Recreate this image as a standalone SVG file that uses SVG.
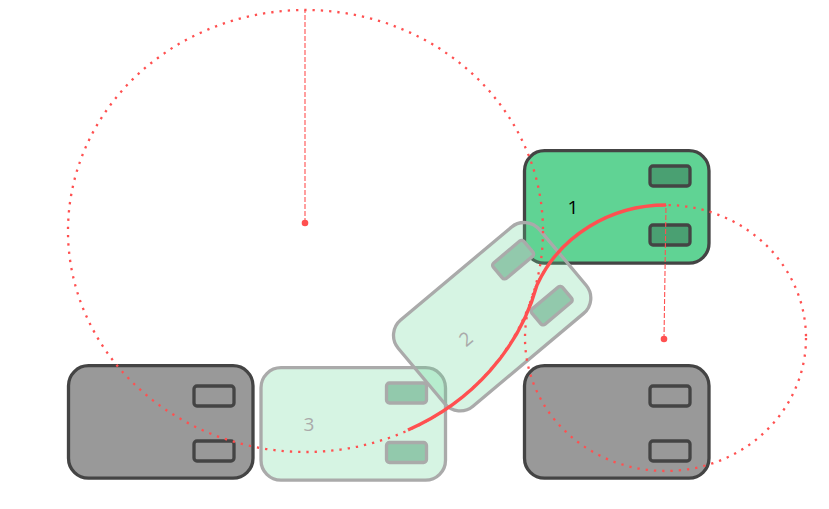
<svg xmlns="http://www.w3.org/2000/svg" width="829" height="509" viewBox="0 0 829 509">
<style>
.body{stroke-width:3.300}
.wheel{stroke-width:3.300}
.grey .body,.grey .wheel{fill:#999;stroke:#444}
.green .body{fill:#60d394;stroke:#444}
.green .wheel{fill:#4aa072;stroke:#444}
.ghost .body{fill:#60d394;fill-opacity:.26;stroke:#aaa}
.ghost .wheel{fill:#92c9ac;stroke:#aaa}
text{font-family:"Open Sans","Liberation Sans",sans-serif;font-size:19px;text-anchor:middle;dominant-baseline:central}
.dots{fill:none;stroke:#ff5050;stroke-width:2.300;stroke-dasharray:2.300 6}
.dash{fill:none;stroke:#ff5050;stroke-width:1.100;stroke-dasharray:5 2}
.pt{fill:#ff5050}
</style>
<rect width="829" height="509" fill="#fff"/>
<g id="car-left" class="grey">
<rect class="body" x="68.500" y="365.700" width="184.500" height="112.500" rx="20"/>
<rect class="wheel" x="194" y="386" width="40" height="20" rx="3"/>
<rect class="wheel" x="194" y="441" width="40" height="20" rx="3"/>
</g>
<g id="car-right" class="grey">
<rect class="body" x="524.500" y="365.700" width="184.500" height="112.500" rx="20"/>
<rect class="wheel" x="650" y="386" width="40" height="20" rx="3"/>
<rect class="wheel" x="650" y="441" width="40" height="20" rx="3"/>
</g>
<g id="car-1" class="green">
<rect class="body" x="524.500" y="150.700" width="184.500" height="112.500" rx="20"/>
<rect class="wheel" x="650" y="166" width="40" height="20" rx="3"/>
<rect class="wheel" x="650" y="225" width="40" height="20" rx="3"/>
<text x="573" y="207" fill="#000">1</text>
</g>
<g id="car-3" class="ghost">
<rect class="body" x="261" y="367.700" width="184.500" height="112.500" rx="20"/>
<rect class="wheel" x="386.500" y="383" width="40" height="20" rx="3"/>
<rect class="wheel" x="386.500" y="442.500" width="40" height="20" rx="3"/>
<text x="309" y="424" fill="#aaa">3</text>
</g>
<g id="car-2" class="ghost" transform="translate(491.800 316.700) rotate(-40)">
<rect class="body" x="-92" y="-56" width="184.500" height="112.500" rx="20"/>
<rect class="wheel" x="33" y="-40" width="40" height="20" rx="3"/>
<rect class="wheel" x="33" y="20" width="40" height="20" rx="3"/>
<text x="-34" y="0" fill="#aaa">2</text>
</g>
<g id="connectors">
<ellipse class="dots" cx="305.500" cy="231" rx="237.500" ry="221"/>
<ellipse class="dots" cx="665.500" cy="338" rx="140.500" ry="133"/>
<path class="dash" d="M305 223V10"/>
<path class="dash" d="M664 339L666 205"/>
<circle class="pt" cx="305" cy="223" r="3.300"/>
<circle class="pt" cx="664" cy="339" r="3.300"/>
<path d="M666 205A140.500 133 0 0 0 537 285A237.500 221 0 0 1 408 430" fill="none" stroke="#ff5050" stroke-width="3.400"/>
</g>
</svg>
